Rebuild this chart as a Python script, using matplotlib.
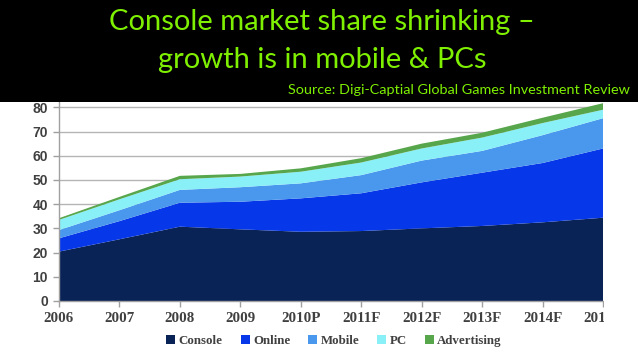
import matplotlib
matplotlib.use("Agg")
import matplotlib.pyplot as plt
from matplotlib.patches import Rectangle, Patch

years = ["2006", "2007", "2008", "2009", "2010P", "2011F", "2012F", "2013F", "2014F", "2015F"]
console = [20.4, 25.5, 30.7, 29.6, 28.6, 28.9, 30.0, 31.0, 32.5, 34.4]
online = [5.5, 7.5, 9.9, 11.4, 13.8, 15.6, 19.0, 22.0, 24.5, 28.6]
mobile = [3.4, 4.5, 5.3, 6.0, 6.2, 7.5, 9.0, 9.0, 11.5, 12.5]
pc = [4.2, 4.5, 4.4, 4.4, 4.8, 5.2, 5.0, 5.5, 5.0, 3.5]
advertising = [0.7, 1.0, 1.4, 1.1, 1.4, 1.8, 2.0, 2.0, 2.2, 2.7]
series_names = ["Console", "Online", "Mobile", "PC", "Advertising"]
colors = ["#0a2357", "#0637e8", "#4a97ee", "#8af0f8", "#57a64c"]
yticks = [0, 10, 20, 30, 40, 50, 60, 70, 80]

W, H = 638, 359
fig = plt.figure(figsize=(W / 100, H / 100), dpi=100)
fig.patch.set_facecolor("white")

# axes: left 59px, right 603px, bottom 301px, top 102px
ax = fig.add_axes([59 / W, 1 - 301 / H, (603 - 59) / W, (301 - 102) / H])
x = list(range(len(years)))
ax.stackplot(x, console, online, mobile, pc, advertising, colors=colors, linewidth=0, zorder=2)
ax.set_xlim(0, len(years) - 1)
ax.set_ylim(0, 82.2)
ax.set_yticks(yticks)
ax.set_xticks(x)
ax.set_xticklabels(years)
ax.grid(axis="y", color="#b5b5b5", linewidth=1.0, zorder=0)
ax.set_axisbelow(True)
for s in ["top", "right"]:
    ax.spines[s].set_visible(False)
for s in ["left", "bottom"]:
    ax.spines[s].set_color("#a0a0a0")
    ax.spines[s].set_linewidth(1.0)
ax.tick_params(axis="both", direction="out", length=4, color="#a0a0a0", width=1.0)
for lab in ax.get_xticklabels():
    lab.set_fontfamily("Liberation Serif")
    lab.set_fontweight("bold")
    lab.set_fontsize(10.8)
    lab.set_color("#404040")
for lab in ax.get_yticklabels():
    lab.set_fontfamily("Liberation Sans")
    lab.set_fontweight("bold")
    lab.set_fontsize(10)
    lab.set_color("#404040")
ax.tick_params(axis="x", pad=4)
ax.tick_params(axis="y", pad=4)

# white crop on the right
fig.patches.append(Rectangle((604 / W, 1 - 335 / H), (W - 604) / W, (335 - 100) / H,
                             transform=fig.transFigure, facecolor="white", edgecolor="none", zorder=10))
# black title band
fig.patches.append(Rectangle((0, 1 - 102 / H), 1, 102 / H, transform=fig.transFigure,
                             facecolor="black", edgecolor="none", zorder=11))

green = "#7ff000"
fig.text(322 / W, 1 - 22 / H, "Console market share shrinking \u2013", ha="center", va="center",
         color=green, fontsize=21, fontfamily="Lato", zorder=12)
fig.text(322 / W, 1 - 60 / H, "growth is in mobile & PCs", ha="center", va="center",
         color=green, fontsize=21, fontfamily="Lato", zorder=12)
fig.text(630 / W, 1 - 90 / H, "Source: Digi-Captial Global Games Investment Review", ha="right",
         va="center", color=green, fontsize=10.4, fontfamily="Lato", zorder=12)

handles = [Patch(facecolor=c, edgecolor="none") for c in colors]
leg = fig.legend(handles, series_names, loc="center", bbox_to_anchor=(334 / W, 1 - 341 / H), ncol=5,
                 frameon=False, handlelength=0.7, handleheight=0.7, handletextpad=0.25,
                 columnspacing=1.4, prop={"family": "Liberation Serif", "weight": "bold", "size": 9.3})
for t in leg.get_texts():
    t.set_color("#404040")

fig.savefig("out.png", dpi=100, facecolor="white")
